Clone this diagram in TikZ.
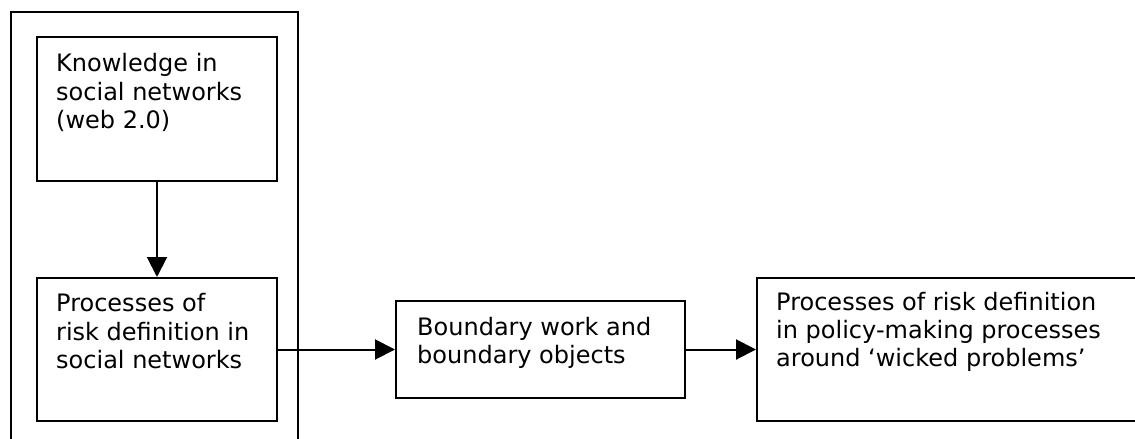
\documentclass[tikz,border=0pt]{standalone}
\usepackage{fontspec}
\setmainfont{DejaVu Sans}
\usetikzlibrary{arrows.meta}
\begin{document}
\begin{tikzpicture}[x=1pt,y=-1pt,
  box/.style={draw=black, line width=2pt, rectangle, inner sep=0pt, anchor=north west},
  frame/.style={draw=black, line width=1.8pt},
  label/.style={anchor=base west, inner sep=0pt, font=\fontsize{24}{28.4}\selectfont},
  conn/.style={draw=black, line width=2pt, -{Triangle[length=20pt,width=20pt]}}]
\useasboundingbox (0,0) rectangle (1135,439);
\clip (0,0) rectangle (1135,439);
\fill[white] (0,0) rectangle (1135,439);
% outer frame (open at the bottom)
\coordinate (fbl) at (11,445);
\coordinate (ftl) at (11,12);
\coordinate (ftr) at (298,12);
\coordinate (fbr) at (298,445);
\draw[frame] (fbl) -- (ftl) -- (ftr) -- (fbr);
% boxes
\node[box, minimum width=240pt, minimum height=144pt] (k) at (36,36) {};
\node[box, minimum width=240pt, minimum height=143pt] (p) at (36,277) {};
\node[box, minimum width=289pt, minimum height=97pt] (b) at (395,300) {};
\node[box, minimum width=400pt, minimum height=143pt] (w) at (756,277) {};
% texts
\node[label] (kt) at (56,71.7) {\parbox[t]{215pt}{\raggedright Knowledge in\\social networks\\(web 2.0)}};
\node[label] (pt) at (56,311.7) {\parbox[t]{215pt}{\raggedright Processes of\\risk definition in\\social networks}};
\node[label] (bt) at (417,335) {\parbox[t]{265pt}{\raggedright Boundary work and\\boundary objects}};
\node[label] (wt) at (776,310) {\parbox[t]{355pt}{\raggedright Processes of risk definition\\in policy-making processes\\around ‘wicked problems’}};
% connectors
\draw[conn] (k.south) -- (p.north);
\draw[conn] (p.east) -- (b.west);
\draw[conn] (b.east) -- (w.west);
\end{tikzpicture}
\end{document}
